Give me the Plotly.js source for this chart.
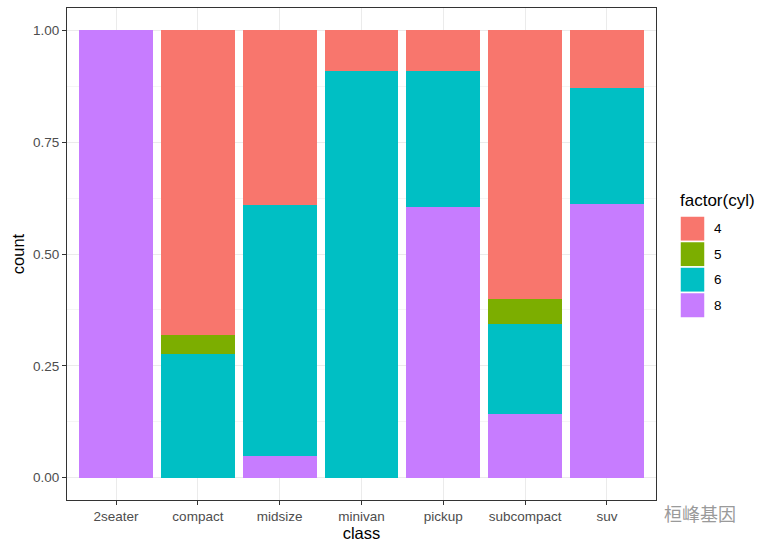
<!DOCTYPE html>
<html><head><meta charset="utf-8">
<script src="https://cdn.plot.ly/plotly-3.0.1.min.js"></script>
<style>body{margin:0;background:#fff}#c{width:764px;height:546px}</style>
</head><body><div id="c"></div>
<script>
var classes = ['2seater','compact','midsize','minivan','pickup','subcompact','suv'];
// counts per class for each cylinder group (shown as proportions)
var cyl4 = [0, 32, 16, 1, 3, 21, 8];
var cyl5 = [0, 2, 0, 0, 0, 2, 0];
var cyl6 = [0, 13, 23, 10, 10, 7, 16];
var cyl8 = [5, 0, 2, 0, 20, 5, 38];
var groups = ['8','6','5','4'];
var legendOrder = ['4','5','6','8'];
var series = {'4':cyl4,'5':cyl5,'6':cyl6,'8':cyl8};
var colors = {'4':'#F8766D','5':'#7CAE00','6':'#00BFC4','8':'#C77CFF'};

var traces = groups.map(function(g){
  return {type:'bar', name:g, x:classes, y:series[g],
    marker:{color:colors[g], line:{width:0}}, hoverinfo:'x+y+name', showlegend:false};
});

var FAM = 'Liberation Sans, Arial, sans-serif';
var tickFont = {family:FAM, size:13.5, color:'#4d4d4d'};
var titleFont = {family:FAM, size:16.5, color:'#000'};

// pixel -> paper helpers for the legend block (plot area 67..656 x 8..500)
var L = 67, R = 656, T = 8, B = 500;
function px(x){ return (x - L) / (R - L); }
function py(y){ return (B - y) / (B - T); }

var shapes = [], annotations = [];
legendOrder.forEach(function(g, i){
  var y0 = 216 + i*25.5, y1 = y0 + 25.5;
  shapes.push({type:'rect', xref:'paper', yref:'paper', x0:px(680), x1:px(705), y0:py(y1), y1:py(y0),
    fillcolor:colors[g], line:{color:'#fff', width:1.5}});
  annotations.push({xref:'paper', yref:'paper', x:px(712), y:py((y0+y1)/2), xanchor:'left', yanchor:'middle',
    text:g, showarrow:false, font:{family:FAM, size:13.5, color:'#000'}});
});
annotations.push({xref:'paper', yref:'paper', x:px(678), y:py(200), xanchor:'left', yanchor:'middle',
  text:'factor(cyl)', showarrow:false, font:{family:FAM, size:17, color:'#000'}});
annotations.push({xref:'paper', yref:'paper', x:px(662), y:py(513), xanchor:'left', yanchor:'middle',
  text:'桓峰基因', showarrow:false,
  font:{family:'Noto Sans CJK SC, sans-serif', size:18, color:'#9a9a9a'}});

var layout = {
  width:764, height:546,
  margin:{l:L, r:764-R, t:T, b:546-B},
  paper_bgcolor:'#fff', plot_bgcolor:'#fff',
  barmode:'stack', barnorm:'fraction', bargap:0.1,
  showlegend:false,
  shapes:shapes, annotations:annotations,
  xaxis:{type:'category', range:[-0.6,6.6], tickfont:tickFont,
    title:{text:'class', font:titleFont, standoff:3},
    showgrid:true, gridcolor:'#ebebeb', gridwidth:1,
    ticks:'outside', ticklen:4, tickcolor:'#333', tickwidth:1,
    showline:true, linecolor:'#333', linewidth:1, mirror:true, zeroline:false},
  yaxis:{range:[-0.05,1.05], tickvals:[0,0.25,0.5,0.75,1],
    ticktext:['0.00','0.25','0.50','0.75','1.00'], tickfont:tickFont,
    title:{text:'count', font:titleFont, standoff:4},
    showgrid:true, gridcolor:'#ebebeb', gridwidth:1,
    minor:{tickvals:[0.125,0.375,0.625,0.875], showgrid:true, gridcolor:'#f5f5f5', gridwidth:1, ticks:''},
    ticks:'outside', ticklen:4, tickcolor:'#333', tickwidth:1,
    showline:true, linecolor:'#333', linewidth:1, mirror:true, zeroline:false}
};
Plotly.newPlot('c', traces, layout, {displayModeBar:false, staticPlot:true});
</script>
</body></html>
